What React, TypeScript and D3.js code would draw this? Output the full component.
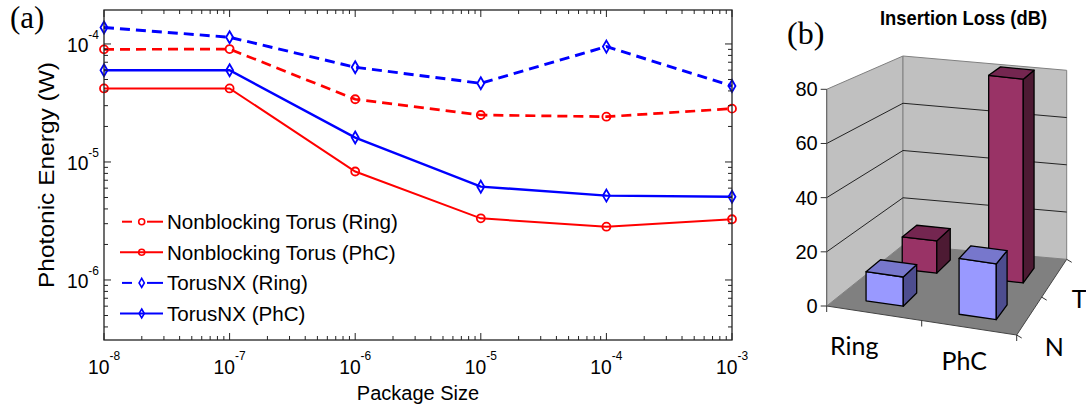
import * as d3 from 'd3'
import { useEffect, useRef } from 'react'

const width = 1086, height = 412

// (a) photonic energy vs package size
const packageSizes = [1e-8, 1e-7, 1e-6, 1e-5, 1e-4, 1e-3]
const nonblockingRing = [9.0e-5, 9.05e-5, 3.4e-5, 2.5e-5, 2.42e-5, 2.83e-5]
const nonblockingPhC = [4.2e-5, 4.2e-5, 8.3e-6, 3.33e-6, 2.83e-6, 3.27e-6]
const torusNXRing = [1.38e-4, 1.14e-4, 6.35e-5, 4.64e-5, 9.5e-5, 4.4e-5]
const torusNXPhC = [5.98e-5, 5.98e-5, 1.61e-5, 6.18e-6, 5.19e-6, 5.08e-6]
const seriesNames = [
  'Nonblocking Torus (Ring)',
  'Nonblocking Torus (PhC)',
  'TorusNX (Ring)',
  'TorusNX (PhC)',
]

// (b) insertion loss
const lossCategories = ['Ring', 'PhC']
const lossSeries = ['N', 'T']
const lossN = [11, 21]
const lossT = [13, 82]
const lossTicks = [0, 20, 40, 60, 80]

const sans = '"Liberation Sans", Arial, Helvetica, sans-serif'
const serif = '"Liberation Serif", "Times New Roman", serif'

const isDecade = (t) => Math.abs(Math.log10(t) - Math.round(Math.log10(t))) < 1e-6

const drawEnergy = (svg) => {
  const x = d3.scaleLog().domain([1e-8, 1e-3]).range([104, 732])
  const y = d3.scaleLog().domain([3.1e-7, 1.94e-4]).range([340, 10])
  const [x0, x1] = x.range()
  const [y0, y1] = y.range()

  const g = svg.append('g').attr('font-family', sans)

  const series = [
    { name: seriesNames[0], values: nonblockingRing, color: '#ff0000', dash: '10,6', width: 2.7, marker: 'circle' },
    { name: seriesNames[1], values: nonblockingPhC, color: '#ff0000', dash: null, width: 2, marker: 'circle' },
    { name: seriesNames[2], values: torusNXRing, color: '#0000ff', dash: '10,6', width: 2.9, marker: 'diamond' },
    { name: seriesNames[3], values: torusNXPhC, color: '#0000ff', dash: null, width: 2.4, marker: 'diamond' },
  ]

  const line = d3.line()
    .x((d, i) => x(packageSizes[i]))
    .y(d => y(d))

  g.append('g')
    .attr('fill', 'none')
    .selectAll('path')
    .data(series)
    .join('path')
    .attr('d', d => line(d.values))
    .attr('stroke', d => d.color)
    .attr('stroke-width', d => d.width)
    .attr('stroke-dasharray', d => d.dash)

  const markerPath = (kind, s = 1) => kind === 'circle'
    ? d3.symbol().type(d3.symbolCircle).size(Math.PI * 16 * s * s)()
    : `M0,${-6 * s}L${3.5 * s},0L0,${6 * s}L${-3.5 * s},0Z`

  series.forEach(s => {
    g.append('g')
      .attr('fill', 'none')
      .attr('stroke', s.color)
      .attr('stroke-width', 1.8)
      .selectAll('path')
      .data(s.values)
      .join('path')
      .attr('transform', (d, i) => `translate(${x(packageSizes[i])},${y(d)})`)
      .attr('d', markerPath(s.marker))
  })

  // box + inward ticks on all sides
  g.append('rect')
    .attr('x', x0).attr('y', y1)
    .attr('width', x1 - x0).attr('height', y0 - y1)
    .attr('fill', 'none')
    .attr('stroke', '#222')
    .attr('stroke-width', 1.3)

  const ticks = g.append('g').attr('stroke', '#222').attr('stroke-width', 1)
  x.ticks().forEach(t => {
    const len = isDecade(t) ? 7 : 4
    ticks.append('line').attr('x1', x(t)).attr('x2', x(t)).attr('y1', y0).attr('y2', y0 - len)
    ticks.append('line').attr('x1', x(t)).attr('x2', x(t)).attr('y1', y1).attr('y2', y1 + len)
  })
  y.ticks().forEach(t => {
    const len = isDecade(t) ? 7 : 4
    ticks.append('line').attr('y1', y(t)).attr('y2', y(t)).attr('x1', x0).attr('x2', x0 + len)
    ticks.append('line').attr('y1', y(t)).attr('y2', y(t)).attr('x1', x1).attr('x2', x1 - len)
  })

  // tick labels 10^n
  const xLab = g.append('g').attr('font-size', 21).attr('text-anchor', 'middle')
  x.ticks().filter(isDecade).forEach(t => {
    const tx = xLab.append('text')
      .attr('transform', `translate(${x(t)},${y0 + 34}) scale(0.92,1)`)
    tx.append('tspan').text('10')
    tx.append('tspan').attr('dy', -14).attr('font-size', 13).text(Math.round(Math.log10(t)))
  })
  const yLab = g.append('g').attr('font-size', 21).attr('text-anchor', 'end')
  y.ticks().filter(isDecade).forEach(t => {
    const tx = yLab.append('text')
      .attr('transform', `translate(${x0 - 5},${y(t) + 8}) scale(0.92,1)`)
    tx.append('tspan').text('10')
    tx.append('tspan').attr('dy', -12.5).attr('font-size', 13).text(Math.round(Math.log10(t)))
  })

  g.append('text')
    .attr('x', (x0 + x1) / 2).attr('y', 400)
    .attr('text-anchor', 'middle')
    .attr('font-size', 20)
    .text('Package Size')

  g.append('text')
    .attr('transform', `translate(53.5,${(y0 + y1) / 2}) rotate(-90)`)
    .attr('text-anchor', 'middle')
    .attr('font-size', 22)
    .attr('textLength', 226)
    .attr('lengthAdjust', 'spacingAndGlyphs')
    .text('Photonic Energy (W)')

  // legend
  const legend = g.append('g')
    .selectAll('g')
    .data(series)
    .join('g')
    .attr('transform', (d, i) => `translate(0,${221.7 + i * 30.6})`)
  legend.each(function (d) {
    const row = d3.select(this)
    const segs = d.dash ? [[122, 132], [147, 163]] : [[120, 163]]
    segs.forEach(([a, b]) => row.append('line')
      .attr('x1', a).attr('x2', b)
      .attr('stroke', d.color).attr('stroke-width', 2))
    row.append('path')
      .attr('transform', 'translate(141.7,0)')
      .attr('d', markerPath(d.marker, 0.75))
      .attr('fill', 'none')
      .attr('stroke', d.color)
      .attr('stroke-width', 1.6)
    row.append('text')
      .attr('x', 167).attr('y', 7.5)
      .attr('font-size', 20.6)
      .text(d.name)
  })

  svg.append('text')
    .attr('x', 10).attr('y', 28)
    .attr('font-family', serif)
    .attr('font-size', 31)
    .text('(a)')
}

const drawLoss = (svg) => {
  const floorFL = [826.7, 306], floorFR = [1016.7, 335]
  const floorBL = [903, 245], floorBR = [1066.7, 259.3]
  const maxV = d3.max(lossTicks)

  const u = d3.scaleBand().domain(lossCategories).range([0, 1]).paddingInner(0.6).paddingOuter(0.3)
  const w = d3.scaleBand().domain(lossSeries).range([0, 1]).paddingInner(0.6).paddingOuter(0.3)
  const lift = d3.scaleLinear().domain([0, 1]).range([216.7 / maxV, 189 / maxV])

  const proj = (a, b, h) => {
    const front = d3.interpolate(floorFL, floorFR)(a)
    const back = d3.interpolate(floorBL, floorBR)(a)
    const p = d3.interpolate(front, back)(b)
    return [p[0], p[1] - h * lift(b)]
  }
  const poly = (pts) => 'M' + pts.map(p => p.join(',')).join('L') + 'Z'

  const g = svg.append('g').attr('font-family', sans)

  // walls and floor
  g.append('path')
    .attr('d', poly([proj(0, 0, 0), proj(0, 0, maxV), proj(0, 1, maxV), proj(0, 1, 0)]))
    .attr('fill', '#c0c0c0').attr('stroke', '#808080')
  g.append('path')
    .attr('d', poly([proj(0, 1, 0), proj(0, 1, maxV), proj(1, 1, maxV), proj(1, 1, 0)]))
    .attr('fill', '#c0c0c0').attr('stroke', '#808080')

  g.append('g')
    .attr('fill', 'none').attr('stroke', '#111').attr('stroke-width', 0.9)
    .selectAll('path')
    .data(lossTicks.filter(v => v > 0 && v < maxV))
    .join('path')
    .attr('d', v => 'M' + [proj(0, 0, v), proj(0, 1, v), proj(1, 1, v)].map(p => p.join(',')).join('L'))

  g.append('path')
    .attr('d', poly([proj(0, 0, 0), proj(1, 0, 0), proj(1, 1, 0), proj(0, 1, 0)]))
    .attr('fill', '#808080')
  g.append('path')
    .attr('d', 'M' + [proj(0, 0, 0), proj(1, 0, 0), proj(1, 1, 0)].map(p => p.join(',')).join('L'))
    .attr('fill', 'none').attr('stroke', '#444').attr('stroke-width', 1)

  // value axis
  const axis = g.append('g').attr('stroke', '#333').attr('stroke-width', 1)
  axis.append('line')
    .attr('x1', proj(0, 0, 0)[0]).attr('y1', proj(0, 0, 0)[1])
    .attr('x2', proj(0, 0, maxV)[0]).attr('y2', proj(0, 0, maxV)[1])
    .attr('stroke', '#666')
  lossTicks.forEach(v => {
    const [px, py] = proj(0, 0, v)
    axis.append('line').attr('x1', px - 6).attr('x2', px).attr('y1', py).attr('y2', py)
    g.append('text')
      .attr('x', px - 9).attr('y', py + 7)
      .attr('text-anchor', 'end')
      .attr('font-size', 20)
      .text(v)
  })
  ;[0, 0.5, 1].forEach(a => {
    const [px, py] = proj(a, 0, 0)
    axis.append('line').attr('x1', px).attr('x2', px).attr('y1', py).attr('y2', py + 6)
  })
  ;[0, 0.5, 1].forEach(b => {
    const [px, py] = proj(1, b, 0)
    axis.append('line').attr('x1', px).attr('x2', px + 5).attr('y1', py).attr('y2', py + 3)
  })

  // bars, back row first
  const palette = {
    N: { front: '#9999ff', top: '#7777cc', side: '#4d4d8f' },
    T: { front: '#993366', top: '#742650', side: '#4d1a33' },
  }
  const rows = [
    { key: 'T', values: lossT },
    { key: 'N', values: lossN },
  ]
  rows.forEach(row => {
    const b0 = w(row.key), b1 = b0 + w.bandwidth()
    row.values.forEach((v, i) => {
      const a0 = u(lossCategories[i]), a1 = a0 + u.bandwidth()
      const c = palette[row.key]
      const bar = g.append('g').attr('stroke', '#000').attr('stroke-width', 1.3).attr('stroke-linejoin', 'round')
      bar.append('path')
        .attr('d', poly([proj(a0, b0, 0), proj(a1, b0, 0), proj(a1, b0, v), proj(a0, b0, v)]))
        .attr('fill', c.front)
      bar.append('path')
        .attr('d', poly([proj(a1, b0, 0), proj(a1, b1, 0), proj(a1, b1, v), proj(a1, b0, v)]))
        .attr('fill', c.side)
      bar.append('path')
        .attr('d', poly([proj(a0, b0, v), proj(a1, b0, v), proj(a1, b1, v), proj(a0, b1, v)]))
        .attr('fill', c.top)
    })
  })

  // category and series labels
  const labelFont = 'Lato, "Open Sans", sans-serif'
  lossCategories.forEach((cat, i) => {
    const [px, py] = proj(u(cat) + u.bandwidth() / 2, 0, 0)
    g.append('text')
      .attr('x', px + (i === 0 ? -20 : -5)).attr('y', py + 42)
      .attr('text-anchor', 'middle')
      .attr('font-family', labelFont)
      .attr('font-size', 25)
      .text(cat)
  })
  lossSeries.forEach((s, i) => {
    const [px, py] = proj(1, w(s) + w.bandwidth() / 2, 0)
    g.append('text')
      .attr('x', px + 25).attr('y', py + (i === 0 ? 40 : 30))
      .attr('text-anchor', 'middle')
      .attr('font-family', labelFont)
      .attr('font-size', 25)
      .text(s)
  })

  g.append('text')
    .attr('x', 880).attr('y', 25)
    .attr('font-size', 21)
    .attr('font-weight', 'bold')
    .attr('textLength', 167)
    .attr('lengthAdjust', 'spacingAndGlyphs')
    .text('Insertion Loss (dB)')

  svg.append('text')
    .attr('x', 787).attr('y', 44)
    .attr('font-family', serif)
    .attr('font-size', 32)
    .text('(b)')
}

export default function App() {
  const ref = useRef(null)
  useEffect(() => {
    const svg = d3.select(ref.current)
    svg.selectAll('*').remove()
    drawEnergy(svg)
    drawLoss(svg)
  }, [])
  return (
    <svg
      ref={ref}
      width={width}
      height={height}
      style={{ position: 'absolute', left: 0, top: 0, background: '#fff' }}
    />
  )
}
